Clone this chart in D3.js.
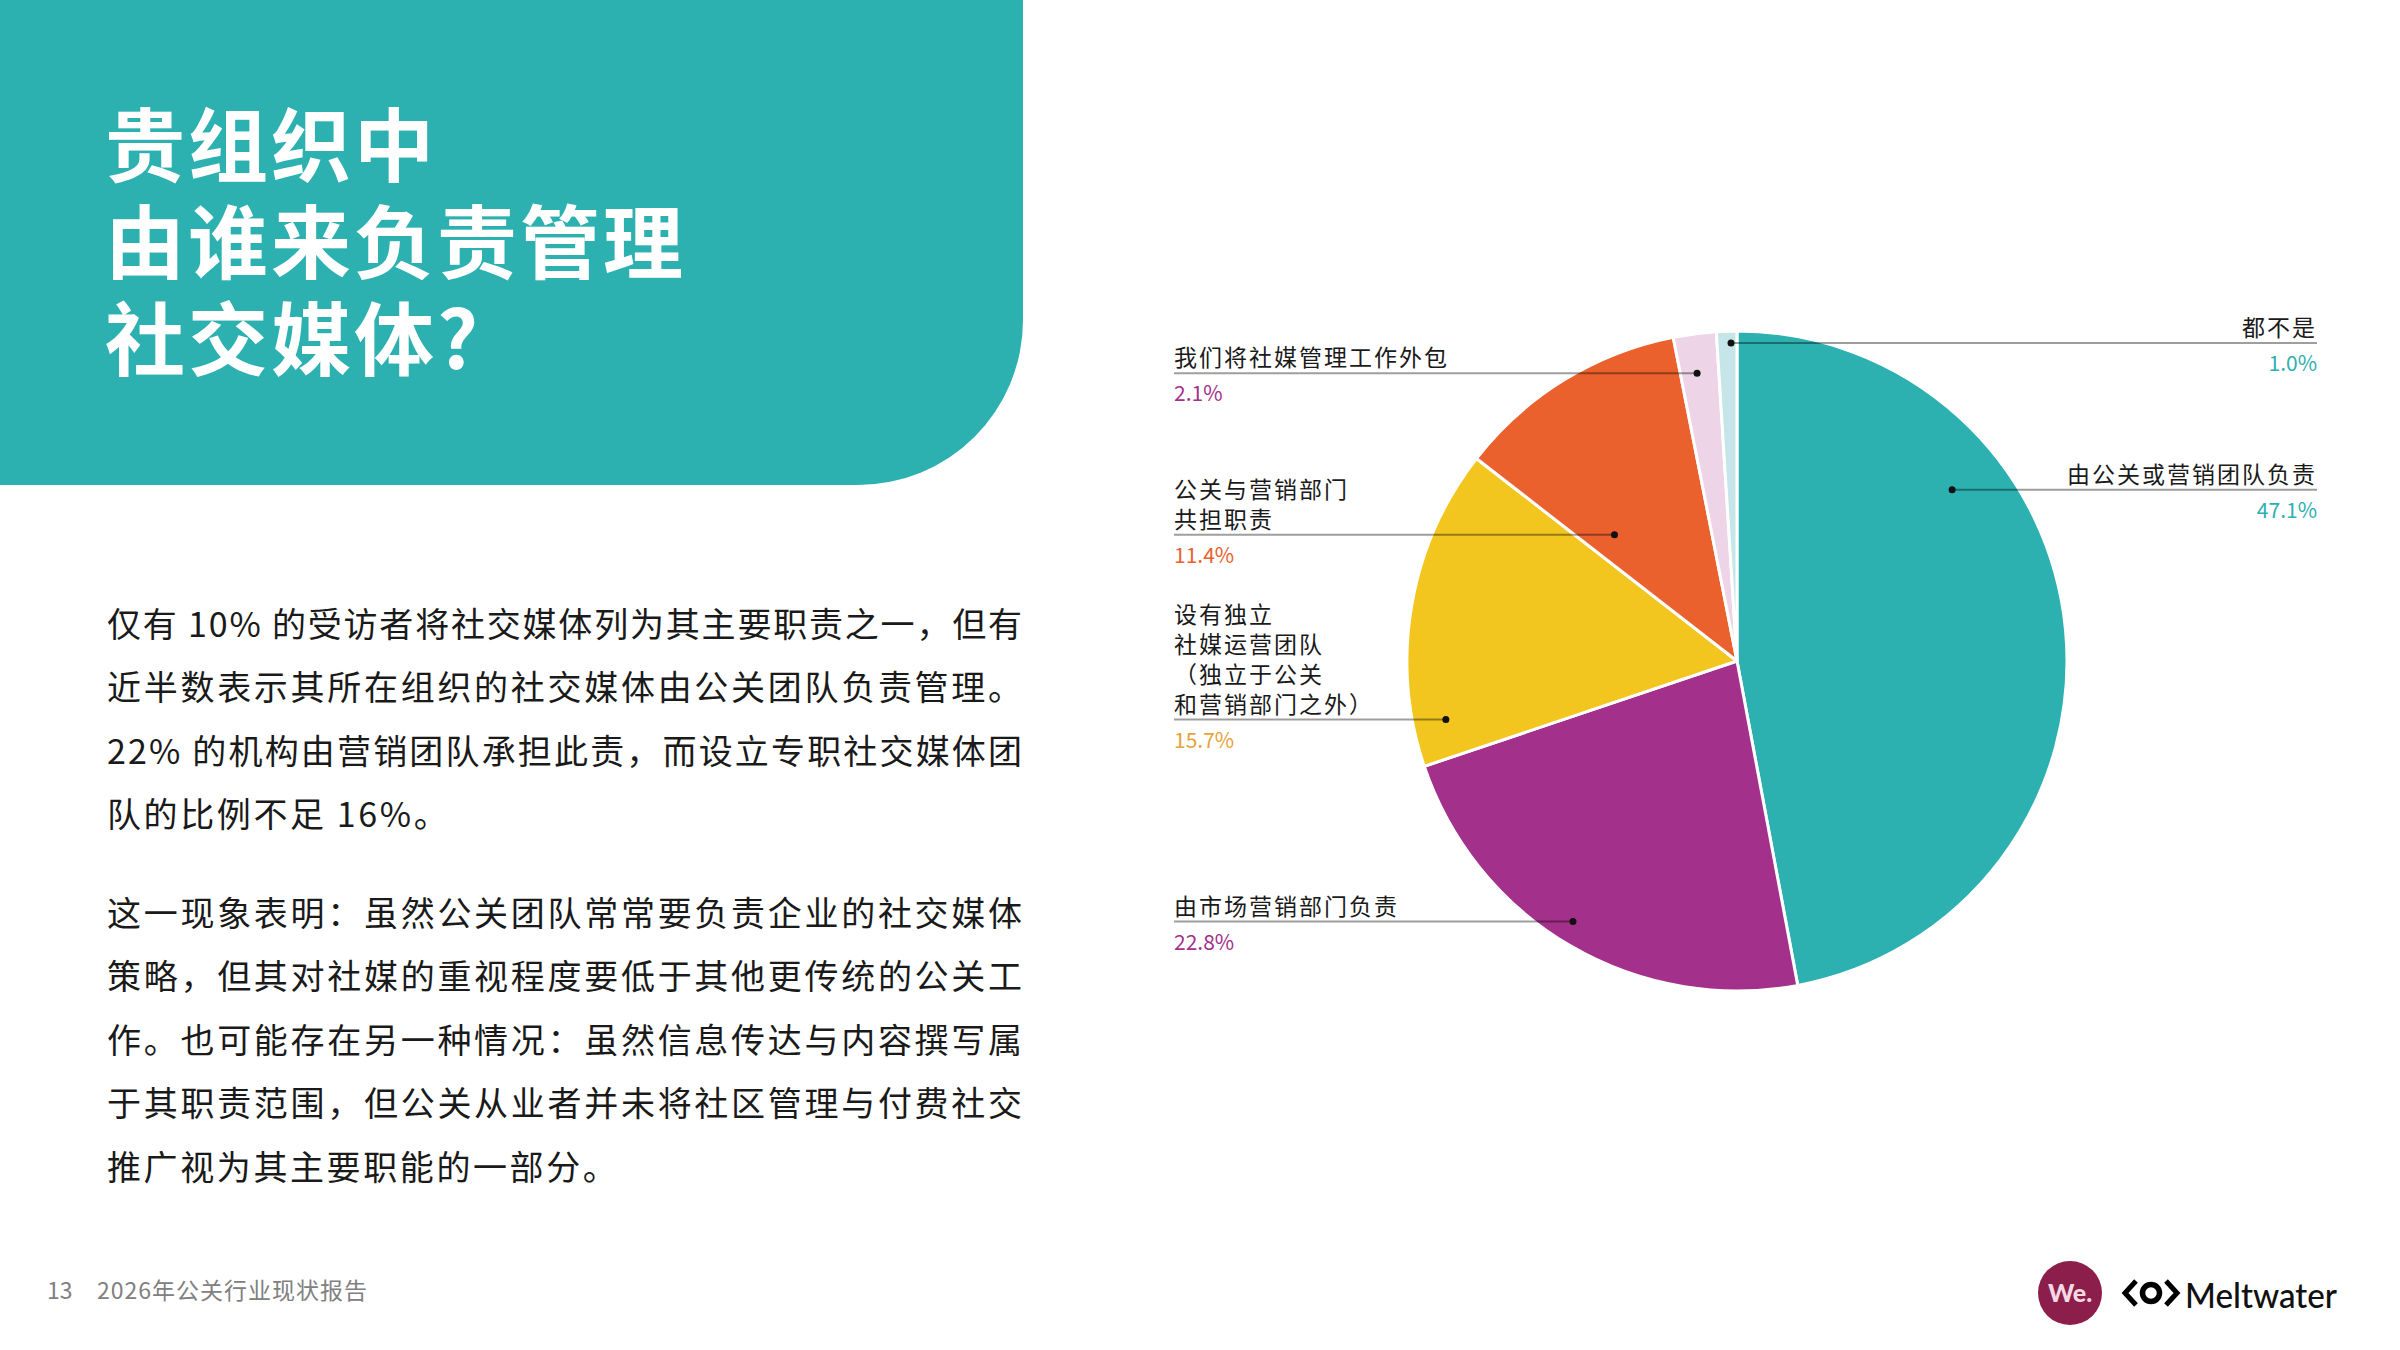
<!DOCTYPE html>
<html>
<head>
<meta charset="utf-8">
<script src="https://cdn.jsdelivr.net/npm/d3@7"></script>
<style>
  html, body { margin: 0; padding: 0; background: #ffffff; }
  svg { display: block; }
</style>
</head>
<body>
<div id="chart"></div>
<script>
// ---------------- DATA ----------------
const categories = [
  "由公关或营销团队负责",
  "由市场营销部门负责",
  "设有独立社媒运营团队（独立于公关和营销部门之外）",
  "公关与营销部门共担职责",
  "我们将社媒管理工作外包",
  "都不是"
];
const values = [47.1, 22.8, 15.7, 11.4, 2.1, 1.0];
const labelLines = [
  ["由公关或营销团队负责"],
  ["由市场营销部门负责"],
  ["设有独立", "社媒运营团队", "（独立于公关", "和营销部门之外）"],
  ["公关与营销部门", "共担职责"],
  ["我们将社媒管理工作外包"],
  ["都不是"]
];
const titleLines = ["贵组织中", "由谁来负责管理", "社交媒体?"];
const para1 = [
  "仅有 10% 的受访者将社交媒体列为其主要职责之一，但有",
  "近半数表示其所在组织的社交媒体由公关团队负责管理。",
  "22% 的机构由营销团队承担此责，而设立专职社交媒体团",
  "队的比例不足 16%。"
];
const para2 = [
  "这一现象表明：虽然公关团队常常要负责企业的社交媒体",
  "策略，但其对社媒的重视程度要低于其他更传统的公关工",
  "作。也可能存在另一种情况：虽然信息传达与内容撰写属",
  "于其职责范围，但公关从业者并未将社区管理与付费社交",
  "推广视为其主要职能的一部分。"
];
const pageNumber = "13";
const footerTitle = "2026年公关行业现状报告";

// ---------------- STYLE / LAYOUT ----------------
const sliceColors = ["#2DB0B0", "#A3308A", "#F2C51F", "#EA612E", "#EDD4E6", "#C6E5E8"];
const pctColors   = ["#2DB0B0", "#A3308A", "#E9A23B", "#EA612E", "#A3308A", "#2DB0B0"];
const labelSide   = ["right", "left", "left", "left", "left", "right"];
const dotAngleFrac  = [0.304, 0.522, 0.128, 0.195, 0.43, 0.70];
const dotRadiusFrac = [0.833, 0.933, 0.90, 0.533, 0.88, 0.964];

const W = 2400, H = 1350;
const cx = 1737, cy = 661, R = 330;
const leftX = 1174, rightX = 2317;
const CJK = "'Noto Sans CJK SC', 'Noto Sans', sans-serif";

const svg = d3.select("#chart").append("svg")
  .attr("width", W).attr("height", H)
  .attr("viewBox", `0 0 ${W} ${H}`);

svg.append("rect").attr("width", W).attr("height", H).attr("fill", "#fff");

// Header panel
svg.append("path")
  .attr("d", "M0,0 H1023 V320 A165,165 0 0 1 858,485 H0 Z")
  .attr("fill", "#2DB0B0");

const title = svg.append("text")
  .attr("fill", "#fff")
  .attr("font-family", CJK)
  .attr("font-weight", 700)
  .attr("font-size", 80)
  .attr("letter-spacing", 3);
title.selectAll("tspan").data(titleLines).join("tspan")
  .attr("x", 105)
  .attr("y", (d, i) => 140 + i * 97)
  .attr("dominant-baseline", "central")
  .text(d => d);

// Body text
const bodyG = svg.append("g")
  .attr("font-family", CJK)
  .attr("font-size", 34)
  .attr("fill", "#1a1a1a");
function drawPara(lines, y0) {
  lines.forEach((t, i) => {
    const el = bodyG.append("text")
      .attr("x", 107)
      .attr("y", y0 + i * 63.5)
      .attr("dominant-baseline", "central")
      .text(t);
    if (i < lines.length - 1) {
      el.attr("textLength", 915).attr("lengthAdjust", "spacing");
    } else {
      el.attr("letter-spacing", 2.6);
    }
  });
}
drawPara(para1, 622);
drawPara(para2, 911);

// Footer
svg.append("text")
  .attr("x", 47).attr("y", 1289)
  .attr("dominant-baseline", "central")
  .attr("font-family", CJK).attr("font-size", 23)
  .attr("fill", "#808080")
  .text(pageNumber);
svg.append("text")
  .attr("x", 97).attr("y", 1289)
  .attr("dominant-baseline", "central")
  .attr("font-family", CJK).attr("font-size", 23)
  .attr("letter-spacing", 1)
  .attr("fill", "#808080")
  .text(footerTitle);

// ---------------- PIE ----------------
const data = categories.map((c, i) => ({ name: c, value: values[i], i }));
const pie = d3.pie().sort(null).value(d => d.value).startAngle(0).endAngle(2 * Math.PI);
const arcs = pie(data);
const arc = d3.arc().innerRadius(0).outerRadius(R);

const pieG = svg.append("g").attr("transform", `translate(${cx},${cy})`);
pieG.selectAll("path").data(arcs).join("path")
  .attr("d", arc)
  .attr("fill", d => sliceColors[d.data.i])
  .attr("stroke", "#fff")
  .attr("stroke-width", 3)
  .attr("stroke-linejoin", "round");

// Leader lines, dots and labels
const fmt = d3.format(".1f");
const labG = svg.append("g");
arcs.forEach(a => {
  const i = a.data.i;
  const ang = a.startAngle + (a.endAngle - a.startAngle) * dotAngleFrac[i];
  const rr = R * dotRadiusFrac[i];
  const dx = cx + rr * Math.sin(ang);
  const dy = cy - rr * Math.cos(ang);
  const side = labelSide[i];
  const x1 = side === "left" ? leftX : dx;
  const x2 = side === "left" ? dx : rightX;
  labG.append("line")
    .attr("x1", x1).attr("x2", x2)
    .attr("y1", dy).attr("y2", dy)
    .attr("stroke", "rgba(0,0,0,0.38)")
    .attr("stroke-width", 2);
  labG.append("circle")
    .attr("cx", dx).attr("cy", dy).attr("r", 3.5)
    .attr("fill", "#111");
  const tx = side === "left" ? leftX : rightX;
  const anchor = side === "left" ? "start" : "end";
  const lines = labelLines[i];
  lines.forEach((t, k) => {
    labG.append("text")
      .attr("x", tx)
      .attr("y", dy - 17 - (lines.length - 1 - k) * 30)
      .attr("dominant-baseline", "central")
      .attr("text-anchor", anchor)
      .attr("font-family", CJK)
      .attr("font-size", 23)
      .attr("letter-spacing", 2)
      .attr("fill", "#1a1a1a")
      .text(t);
  });
  labG.append("text")
    .attr("x", tx)
    .attr("y", dy + 19)
    .attr("dominant-baseline", "central")
    .attr("text-anchor", anchor)
    .attr("font-family", CJK)
    .attr("font-size", 21)
    .attr("fill", pctColors[i])
    .text(fmt(a.data.value) + "%");
});

// ---------------- LOGOS ----------------
const logo = svg.append("g");
logo.append("circle").attr("cx", 2070).attr("cy", 1293).attr("r", 32).attr("fill", "#8B1E4B");
logo.append("text")
  .attr("x", 2070).attr("y", 1292)
  .attr("text-anchor", "middle").attr("dominant-baseline", "central")
  .attr("font-family", "Lato, 'Noto Sans', sans-serif").attr("font-weight", 900)
  .attr("font-size", 25).attr("fill", "#F4D9E3")
  .text("We.");
// Meltwater mark
logo.append("path")
  .attr("d", "M2136,1281 L2125,1293 L2136,1305")
  .attr("fill", "none").attr("stroke", "#000").attr("stroke-width", 5).attr("stroke-linejoin", "miter");
logo.append("circle").attr("cx", 2151).attr("cy", 1293).attr("r", 8.5)
  .attr("fill", "none").attr("stroke", "#000").attr("stroke-width", 5.5);
logo.append("path")
  .attr("d", "M2166,1281 L2177,1293 L2166,1305")
  .attr("fill", "none").attr("stroke", "#000").attr("stroke-width", 5).attr("stroke-linejoin", "miter");
logo.append("text")
  .attr("x", 2185).attr("y", 1294)
  .attr("dominant-baseline", "central")
  .attr("font-family", "Lato, 'Noto Sans', sans-serif").attr("font-weight", 500)
  .attr("font-size", 35).attr("fill", "#111")
  .attr("textLength", 152).attr("lengthAdjust", "spacingAndGlyphs")
  .text("Meltwater");
</script>
</body>
</html>
